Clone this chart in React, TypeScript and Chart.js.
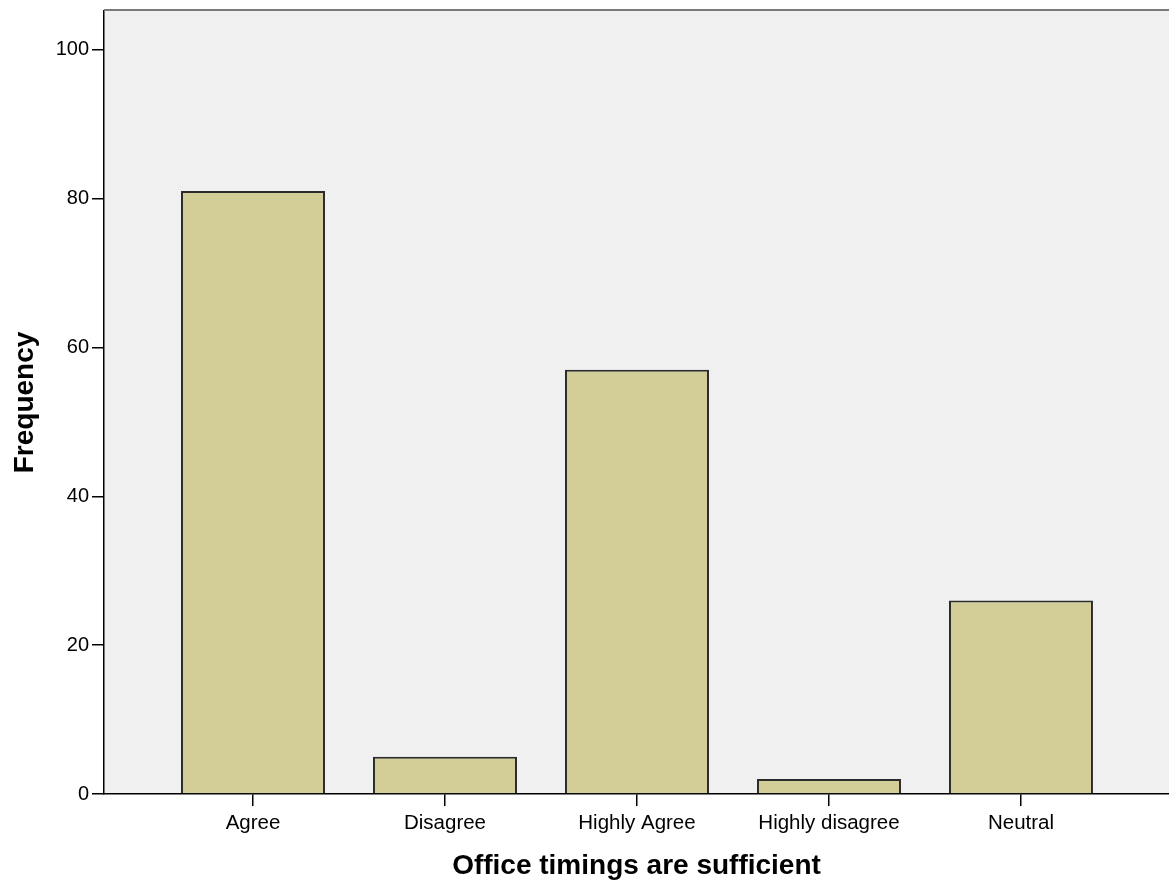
import React, { useEffect, useRef } from "react";
import { Chart, registerables } from "chart.js";

Chart.register(...registerables);

const categories: string[] = ["Agree", "Disagree", "Highly Agree", "Highly disagree", "Neutral"];
const frequencies: number[] = [81, 5, 57, 2, 26];
const yTickValues: number[] = [0, 20, 40, 60, 80, 100];
const xAxisTitle = "Office timings are sufficient";
const yAxisTitle = "Frequency";

const FONT = "Arial, 'Liberation Sans', Helvetica, sans-serif";

const plotFrame = {
  id: "plotFrame",
  beforeDraw(chart: any) {
    const { ctx, chartArea } = chart;
    ctx.save();
    ctx.fillStyle = "#ffffff";
    ctx.fillRect(0, 0, chart.width, chart.height);
    ctx.fillStyle = "#f0f0f0";
    ctx.fillRect(chartArea.left, chartArea.top, chartArea.right - chartArea.left, chartArea.bottom - chartArea.top);
    ctx.restore();
  },
  afterDraw(chart: any) {
    const { ctx, chartArea } = chart;
    ctx.save();
    ctx.strokeStyle = "#7a7a7a";
    ctx.lineWidth = 2;
    ctx.beginPath();
    ctx.moveTo(chartArea.left, chartArea.top - 1);
    ctx.lineTo(chartArea.right, chartArea.top - 1);
    ctx.stroke();
    ctx.restore();
  },
};

export default function App() {
  const ref = useRef<HTMLCanvasElement | null>(null);

  useEffect(() => {
    document.body.style.margin = "0";
    const canvas = ref.current;
    if (!canvas) return;
    const chart = new Chart(canvas, {
      type: "bar",
      data: {
        datasets: [
          {
            data: frequencies.map((v, i) => ({ x: i, y: v })),
            backgroundColor: "#d3ce98",
            borderColor: "#2b2b2b",
            borderWidth: 2,
            barPercentage: 0.75,
            categoryPercentage: 1,
          },
        ],
      },
      options: {
        animation: false,
        responsive: false,
        maintainAspectRatio: false,
        layout: { padding: { top: 11, right: 0, left: 0, bottom: 0 } },
        plugins: {
          legend: { display: false },
          tooltip: { enabled: false },
          title: { display: false },
        },
        scales: {
          x: {
            type: "linear",
            offset: false,
            min: -0.776,
            max: 4.771,
            afterBuildTicks: (scale: any) => {
              scale.ticks = categories.map((_, i) => ({ value: i }));
            },
            afterFit: (scale: any) => {
              scale.height = 89;
              scale.paddingLeft = 0;
              scale.paddingRight = 0;
            },
            ticks: {
              autoSkip: false,
              maxRotation: 0,
              padding: 5,
              color: "#000",
              font: { family: FONT, size: 20.5 },
              callback: (v: any) => categories[Number(v)] ?? "",
            },
            grid: {
              display: true,
              offset: false,
              drawOnChartArea: false,
              drawTicks: true,
              tickLength: 12,
              color: "#000",
              lineWidth: 1.5,
            },
            border: { display: true, color: "#000", width: 1.5 },
            title: {
              display: true,
              text: xAxisTitle,
              color: "#000",
              font: { family: FONT, size: 28, weight: "bold" },
              padding: { top: 6, bottom: 0 },
            },
          },
          y: {
            type: "linear",
            min: 0,
            max: 105.2,
            afterBuildTicks: (scale: any) => {
              scale.ticks = yTickValues.map((v) => ({ value: v }));
            },
            afterFit: (scale: any) => {
              scale.width = 104;
              scale.paddingTop = 0;
              scale.paddingBottom = 0;
            },
            ticks: {
              padding: 3,
              color: "#000",
              font: { family: FONT, size: 20 },
            },
            grid: {
              display: true,
              drawOnChartArea: false,
              drawTicks: true,
              tickLength: 12,
              color: "#000",
              lineWidth: 1.5,
            },
            border: { display: true, color: "#000", width: 1.5 },
            title: {
              display: true,
              text: yAxisTitle,
              color: "#000",
              font: { family: FONT, size: 28, weight: "bold" },
              padding: { top: 8, bottom: 0 },
            },
          },
        },
      },
      plugins: [plotFrame],
    } as any);
    return () => chart.destroy();
  }, []);

  return (
    <div style={{ width: 1169, height: 883 }}>
      <canvas ref={ref} width={1169} height={883} style={{ display: "block", width: 1169, height: 883 }} />
    </div>
  );
}
